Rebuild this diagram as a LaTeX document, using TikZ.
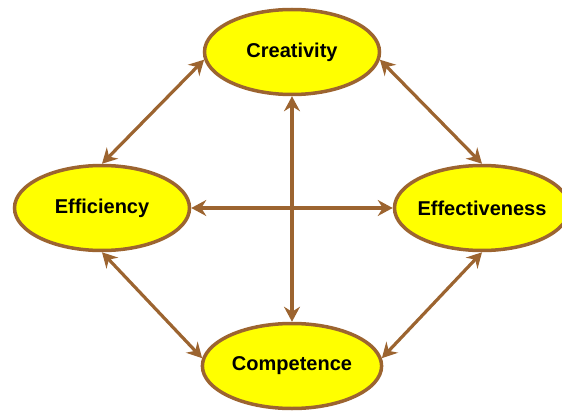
\documentclass[tikz,border=0pt]{standalone}
\usepackage{fontspec}
\setmainfont{Liberation Sans}
\usepackage{tikz}
\usetikzlibrary{arrows.meta}
\usetikzlibrary{shapes}
\definecolor{linkbrown}{RGB}{156,100,48}
\definecolor{qualityyellow}{RGB}{255,255,0}
\tikzstyle{quality} = [ellipse, draw=linkbrown, line width=3.5pt, fill=qualityyellow, minimum width=175pt, minimum height=85pt, font=\fontsize{20}{24}\selectfont\bfseries]
\tikzstyle{link} = [draw=linkbrown, {Stealth[length=15pt,width=16pt,inset=5pt]}-{Stealth[length=15pt,width=16pt,inset=5pt]}, line width=3.2pt]

\begin{document}
\begin{tikzpicture}[x=1pt,y=-1pt]
	\useasboundingbox (0,0) rectangle (562,412);
	% -------------- Qualities --------------
	\node[quality] (creativity)    at (292,52)  {Creativity};
	\node[quality] (efficiency)    at (102,208) {Efficiency};
	\node[quality, inner xsep=-20pt] (effectiveness) at (482,208) {Effectiveness};
	\node[quality] (competence)    at (292,366) {Competence};
	% -------------- Links --------------
	\path[link] (efficiency.north)    -- (creativity.185);
	\path[link] (creativity.-5)       -- (effectiveness.north);
	\path[link] (efficiency.south)    -- (competence.175);
	\path[link] (competence.5)        -- (effectiveness.south);
	\path[link] (efficiency.east)     -- (effectiveness.west);
	\path[link] (creativity.south)    -- (competence.north);
\end{tikzpicture}
\end{document}
